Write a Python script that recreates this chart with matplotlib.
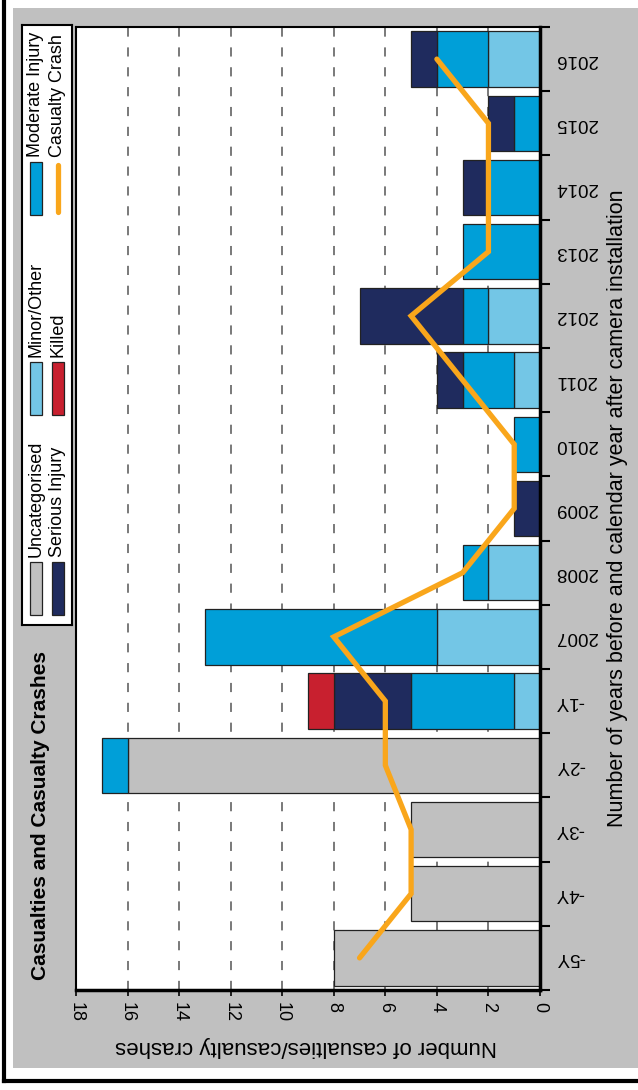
import numpy as np
import matplotlib
matplotlib.use("Agg")
import matplotlib.pyplot as plt
from matplotlib.patches import Rectangle
from matplotlib.lines import Line2D

plt.rcParams['font.family'] = ['Liberation Sans', 'DejaVu Sans']

# data
categories = ['-5Y', '-4Y', '-3Y', '-2Y', '-1Y', '2007', '2008', '2009',
              '2010', '2011', '2012', '2013', '2014', '2015', '2016']
uncategorised = [8, 5, 5, 16, 0, 0, 0, 0, 0, 0, 0, 0, 0, 0, 0]
minor_other = [0, 0, 0, 0, 1, 4, 2, 0, 0, 1, 2, 0, 0, 0, 2]
moderate = [0, 0, 0, 1, 4, 9, 1, 0, 1, 2, 1, 3, 2, 1, 2]
serious = [0, 0, 0, 0, 3, 0, 0, 1, 0, 1, 4, 0, 1, 1, 1]
killed = [0, 0, 0, 0, 1, 0, 0, 0, 0, 0, 0, 0, 0, 0, 0]
casualty_crashes = [7, 5, 5, 6, 6, 8, 3, 1, 1, 3, 5, 2, 2, 2, 4]

series_names = ['Uncategorised', 'Minor/Other', 'Moderate Injury',
                'Serious Injury', 'Killed']
series_colors = ['#C0C0C0', '#73C6E6', '#009FD8', '#1F2B5E', '#C8202F']
line_name = 'Casualty Crash'
line_color = '#F9A61B'
value_ticks = [0, 2, 4, 6, 8, 10, 12, 14, 16, 18]

W, H = 638, 1090
fig = plt.figure(figsize=(W / 100, H / 100), dpi=100)

# background panel and outer frame
fig.patches.append(Rectangle((13 / W, 1 - 1068 / H), 1 - 13 / W, 1060 / H,
                             transform=fig.transFigure, facecolor='#C0C0C0',
                             edgecolor='none', zorder=-10))
fig.add_artist(Line2D([3.5 / W, 3.5 / W], [1 - 1081 / H, 1], color='black', lw=3, zorder=-5))
fig.add_artist(Line2D([3.5 / W, 1], [1 - 1081 / H, 1 - 1081 / H], color='black', lw=3, zorder=-5))

ax = fig.add_axes([76 / W, 1 - 990 / H, 464 / W, 963 / H])
ax.set_facecolor('white')

pos = np.arange(len(categories))
left = np.zeros(len(categories))
for vals, col in zip([uncategorised, minor_other, moderate, serious, killed], series_colors):
    vals = np.array(vals, dtype=float)
    m = vals > 0
    ax.barh(pos[m], vals[m], left=left[m], height=0.86, color=col,
            edgecolor='#222222', linewidth=0.9, zorder=2)
    left += vals

ax.plot(casualty_crashes, pos, color=line_color, lw=3.8,
        solid_capstyle='round', solid_joinstyle='miter', zorder=3)

ax.set_xlim(18, 0)
ax.set_ylim(-0.5, len(categories) - 0.5)

# value axis
ax.set_xticks(value_ticks)
ax.set_xticklabels([str(v) for v in value_ticks])
ax.tick_params(axis='x', labelrotation=-90, labelsize=13, length=4, width=1.2, pad=5)
for v in value_ticks[1:-1]:
    ax.axvline(v, color='#555555', lw=1.1, ls=(0, (6, 7)), zorder=1)

# category axis
ax.yaxis.tick_right()
ax.set_yticks(pos)
ax.set_yticklabels(categories)
ax.set_yticks(np.arange(-0.5, len(categories), 1), minor=True)
ax.tick_params(axis='y', which='major', length=0, pad=11, labelsize=13.5,
               labelrotation=180, right=True, left=False)
ax.tick_params(axis='y', which='minor', length=7, width=1.5, right=True, left=False)
for lab in ax.get_yticklabels():
    lab.set_va('center')

ax.spines['right'].set_linewidth(2.5)
ax.spines['bottom'].set_linewidth(2.5)
ax.spines['left'].set_linewidth(1.5)
ax.spines['top'].set_linewidth(1.5)

ax.set_xlabel('Number of casualties/casualty crashes', fontsize=16, rotation=180, va='center')
ax.xaxis.set_label_coords(0.496, -0.059)
ax.yaxis.set_label_position('right')
ax.set_ylabel('Number of years before and calendar year after camera installation',
              fontsize=15.5, rotation=90, va='center', ha='center')
ax.yaxis.set_label_coords(1.168, 0.5)

fig.text(41 / W, 1 - 815 / H, 'Casualties and Casualty Crashes', rotation=90,
         ha='center', va='center', fontsize=15, fontweight='bold')

# legend, drawn rotated like the rest of the chart
lax = fig.add_axes([22 / W, 1 - 625 / H, 50 / W, 600 / H])
lax.set_xlim(22, 72)
lax.set_ylim(625, 25)
lax.set_xticks([])
lax.set_yticks([])
for s in lax.spines.values():
    s.set_linewidth(1.5)
row_x = [35.5, 57.5]
slot_y = [615, 415, 215]
entries = list(zip(series_names, series_colors)) + [(line_name, line_color)]
for i, (name, col) in enumerate(entries):
    r, c = i // 3, i % 3
    x0, y0 = row_x[r], slot_y[c]
    if name == line_name:
        lax.plot([x0, x0], [y0 - 3, y0 - 50], color=col, lw=3.8, solid_capstyle='round')
    else:
        lax.add_patch(Rectangle((x0 - 6, y0 - 53), 12, 53, facecolor=col,
                                edgecolor='#222222', lw=0.9))
    lax.text(x0 + 0.5, y0 - 58, name, rotation=90, ha='center', va='bottom', fontsize=13)

fig.savefig('out.png', dpi=100)
